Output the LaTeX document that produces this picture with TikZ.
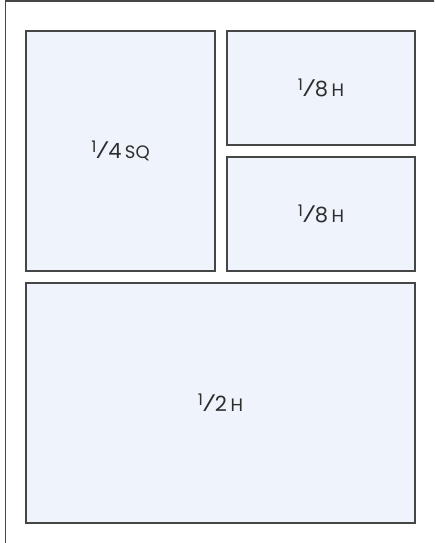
\documentclass[tikz,border=0pt]{standalone}
\usepackage{fontspec}
\setmainfont{Poppins}
\usetikzlibrary{positioning}
\definecolor{PanelFill}{RGB}{239,244,252}
\definecolor{PanelLine}{RGB}{70,70,70}
\definecolor{PanelText}{RGB}{45,45,45}
\newcommand\panelfrac[2]{\raisebox{0.3em}{\fontsize{16}{16}\selectfont #1}{\fontsize{24}{24}\selectfont ⁄}#2}
\tikzset{
  panel/.style={draw=PanelLine,fill=PanelFill,line width=1.4pt,
                inner sep=0pt,outer sep=0pt,font=\fontsize{21}{21}\selectfont,
                text=PanelText,text centered},
  frame/.style={draw=PanelLine,line width=1.2pt},
}

\begin{document}
\begin{tikzpicture}[x=1pt,y=-1pt]
        \useasboundingbox (0,0) rectangle (434,543);
        \clip (0,0) rectangle (434,543);
        \draw[frame] (5.5,560) rectangle (450,1);
        \node[panel,minimum width=189pt,minimum height=240pt,anchor=north west] (sq) at (26,31) {\panelfrac{1}{4}\,{\fontsize{18}{18}\selectfont SQ}};
        \node[panel,minimum width=188pt,minimum height=114pt,below right=0pt and 12pt of sq.north east] (topr) {\panelfrac{1}{8}\,{\fontsize{18}{18}\selectfont H}};
        \node[panel,minimum width=188pt,minimum height=114pt,below=12pt of topr] (midr) {\panelfrac{1}{8}\,{\fontsize{18}{18}\selectfont H}};
        \node[panel,minimum width=389pt,minimum height=240pt,below right=12pt and 0pt of sq.south west] (half) {\panelfrac{1}{2}\,{\fontsize{18}{18}\selectfont H}};
      \end{tikzpicture}
\end{document}
